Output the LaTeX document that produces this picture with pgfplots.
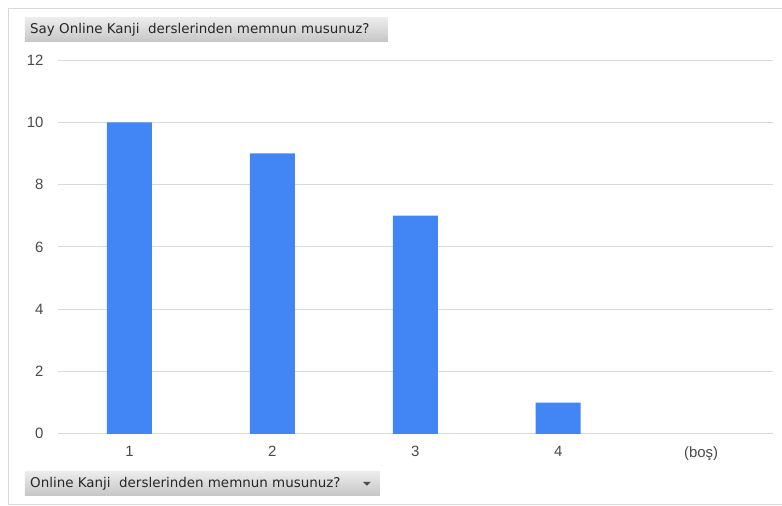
\documentclass[border=0pt]{standalone}
\usepackage{pgfplots}
\pgfplotsset{compat=1.18}
\usepackage{fontspec}
\setmainfont{Liberation Sans}
\newfontfamily\boxfont{DejaVu Sans}
\definecolor{barblue}{HTML}{4285F4}
\definecolor{gridgray}{HTML}{D9D9D9}
\definecolor{ticktext}{HTML}{4A4A4A}
\begin{document}
\begin{tikzpicture}[x=1bp,y=1bp]
\path (-58,-72) rectangle (724,434);
\draw[gridgray,line width=0.8bp] (-50,-71) -- (-50,426) -- (724,426);
\draw[gridgray,line width=0.8bp] (-50,-71) -- (724,-71);
\begin{axis}[
  at={(0,0)}, anchor=south west,
  scale only axis, width=715bp, height=374bp,
  xmin=-0.5, xmax=4.5, ymin=0, ymax=12,
  ytick={0,2,4,6,8,10,12},
  xtick={0,1,2,3,4},
  xticklabels={1,2,3,4,(boş)},
  axis line style={draw=none},
  ymajorgrids, grid style={gridgray,line width=0.9bp},
  tick style={draw=none},
  ybar, bar width=45bp,
  tick label style={font=\fontsize{15}{17}\selectfont, text=ticktext},
  /pgf/number format/assume math mode=true,
  yticklabel style={xshift=-11bp},
  xticklabel style={yshift=-5bp},
  clip=false,
]
\addplot[fill=barblue, draw=none] coordinates {(0,10) (1,9) (2,7) (3,1)};
\end{axis}
\shade[top color=gray!15, bottom color=gray!45] (-33,392) rectangle (330,416);
\node[anchor=west, font=\boxfont\fontsize{13.5}{15}\selectfont, text=black!85, inner sep=0] at (-28,404) {Say Online Kanji\ \ derslerinden memnun musunuz?};
\shade[top color=gray!15, bottom color=gray!45] (-33,-62) rectangle (322,-38);
\node[anchor=west, font=\boxfont\fontsize{13.5}{15}\selectfont, text=black!85, inner sep=0] at (-28,-50) {Online Kanji\ \ derslerinden memnun musunuz?};
\fill[black!70] (305,-48) -- (313,-48) -- (309,-52) -- cycle;
\end{tikzpicture}
\end{document}
